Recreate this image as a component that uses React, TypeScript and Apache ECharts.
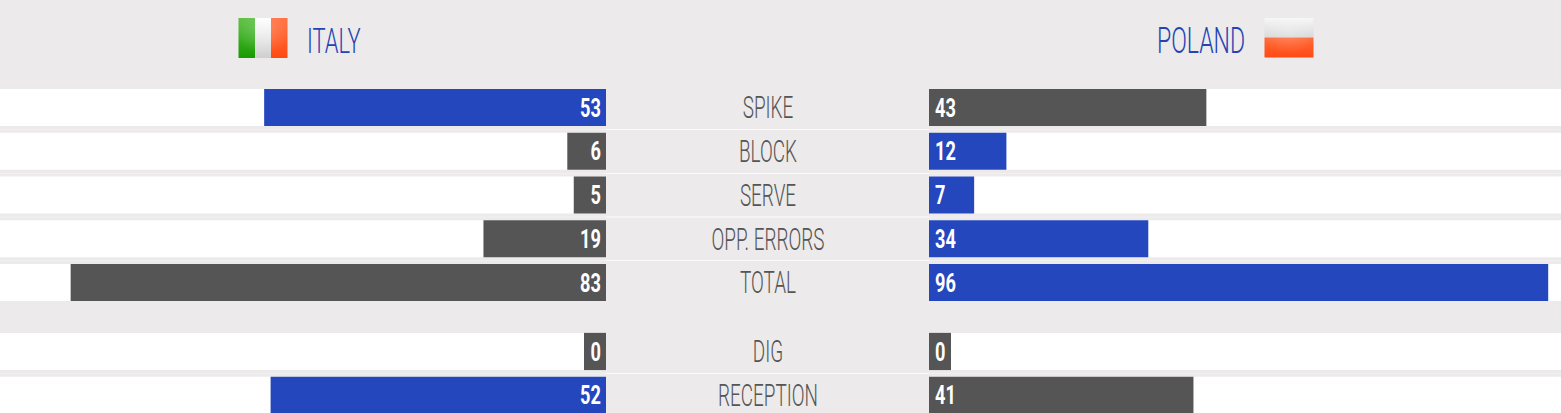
import React, { useEffect, useRef } from "react";
import * as echarts from "echarts";

const teams = ["ITALY", "POLAND"];
const topCategories = ["SPIKE", "BLOCK", "SERVE", "OPP. ERRORS", "TOTAL"];
const topItaly = [53, 6, 5, 19, 83];
const topPoland = [43, 12, 7, 34, 96];
const bottomCategories = ["DIG", "RECEPTION"];
const bottomItaly = [0, 52];
const bottomPoland = [0, 41];

const W = 1561;
const H = 413;
const CHART_H = 430;
const BG = "#ECEAEB";
const BLUE = "#2447BE";
const GREY = "#555555";
const LEFT_END = 606;
const RIGHT_START = 929;
const PX_PER_UNIT = 6.45;
const MIN_BAR = 22;
const BAR_H = 37.2;
const PITCH = 43.75;
const TOP_GRID = 85.6;
const BOTTOM_GRID = 329.6;
const SANS = "Roboto, sans-serif";

function sideSeries(values: number[], others: number[], idx: number, isLeft: boolean, cats: string[]) {
  return {
    type: "custom",
    xAxisIndex: idx,
    yAxisIndex: idx,
    encode: { x: 0, y: 1 },
    data: values.map((v, i) => [v, i]),
    renderItem: (params: any, api: any) => {
      const i = params.dataIndex;
      const v = api.value(0);
      const base = api.coord([0, i]);
      const end = api.coord([v, i]);
      const len = Math.max(Math.abs(end[0] - base[0]), MIN_BAR);
      const cs = params.coordSys;
      const color = v > others[i] ? BLUE : GREY;
      const barX = isLeft ? base[0] - len : base[0];
      const top = base[1] - BAR_H / 2;
      return {
        type: "group",
        children: [
          { type: "rect", shape: { x: cs.x, y: top, width: cs.width, height: BAR_H }, style: { fill: "#fff" } },
          { type: "rect", shape: { x: barX, y: top, width: len, height: BAR_H }, style: { fill: color } },
          {
            type: "text",
            x: isLeft ? base[0] - 5 : base[0] + 6,
            y: base[1],
            scaleX: 0.7,
            style: {
              text: String(v),
              fill: "#fff",
              font: `bold 26px ${SANS}`,
              align: isLeft ? "right" : "left",
              verticalAlign: "middle",
            },
          },
          ...(isLeft
            ? [
                {
                  type: "text",
                  x: (LEFT_END + RIGHT_START) / 2 + 0.5,
                  y: base[1],
                  scaleX: 0.61,
                  style: {
                    text: cats[i],
                    fill: GREY,
                    font: `300 31px ${SANS}`,
                    align: "center",
                    verticalAlign: "middle",
                  },
                },
              ]
            : []),
        ],
      };
    },
  };
}

function rowLine(y: number) {
  return [
    { type: "line", silent: true, shape: { x1: 0, y1: y, x2: W, y2: y }, style: { stroke: "#F1F0F0", lineWidth: 1 } },
    { type: "line", silent: true, shape: { x1: LEFT_END, y1: y, x2: RIGHT_START, y2: y }, style: { stroke: "#FBFBFB", lineWidth: 1 } },
  ];
}

function flagRect(x: number, y: number, w: number, h: number, top: string, bottom: string) {
  return {
    type: "rect",
    shape: { x, y, width: w, height: h },
    style: {
      fill: { type: "linear", x: 0, y: 0, x2: 0, y2: 1, colorStops: [{ offset: 0, color: top }, { offset: 1, color: bottom }] },
    },
  };
}

function flagShine(x: number, y: number, w: number, h: number) {
  return {
    type: "rect",
    shape: { x, y, width: w, height: h, r: 1 },
    style: {
      fill: {
        type: "radial",
        x: 0.5,
        y: 0.3,
        r: 0.6,
        colorStops: [
          { offset: 0, color: "rgba(255,255,255,0.22)" },
          { offset: 1, color: "rgba(255,255,255,0)" },
        ],
      },
    },
  };
}

function teamTitle(text: string, x: number, align: string, scaleX: number) {
  return {
    type: "text",
    x,
    y: 40,
    scaleX,
    style: { text, fill: "#2444B4", font: `300 36px ${SANS}`, align, verticalAlign: "middle" },
  };
}

export default function App() {
  const ref = useRef<HTMLDivElement>(null);
  useEffect(() => {
    const chart = echarts.init(ref.current!, null, { renderer: "svg" });
    const leftMax = LEFT_END / PX_PER_UNIT;
    const rightMax = (W - RIGHT_START) / PX_PER_UNIT;
    const grids = [
      { left: 0, width: LEFT_END, top: TOP_GRID, height: PITCH * 5 },
      { left: RIGHT_START, width: W - RIGHT_START, top: TOP_GRID, height: PITCH * 5 },
      { left: 0, width: LEFT_END, top: BOTTOM_GRID, height: PITCH * 2 },
      { left: RIGHT_START, width: W - RIGHT_START, top: BOTTOM_GRID, height: PITCH * 2 },
    ];
    const xAxis = grids.map((_, i) => ({
      type: "value",
      gridIndex: i,
      show: false,
      min: 0,
      max: i % 2 === 0 ? leftMax : rightMax,
      inverse: i % 2 === 0,
    }));
    const yAxis = grids.map((_, i) => ({
      type: "category",
      gridIndex: i,
      show: false,
      inverse: true,
      data: i < 2 ? topCategories : bottomCategories,
    }));
    chart.setOption({
      animation: false,
      backgroundColor: BG,
      grid: grids,
      xAxis,
      yAxis,
      series: [
        sideSeries(topItaly, topPoland, 0, true, topCategories),
        sideSeries(topPoland, topItaly, 1, false, topCategories),
        sideSeries(bottomItaly, bottomPoland, 2, true, bottomCategories),
        sideSeries(bottomPoland, bottomItaly, 3, false, bottomCategories),
      ],
      graphic: [
        ...rowLine(129.5),
        ...rowLine(173.5),
        ...rowLine(217),
        ...rowLine(260.5),
        ...rowLine(373.5),
        flagRect(238.5, 18, 16.5, 40, "#5CC040", "#189A02"),
        flagRect(255, 18, 16, 40, "#FFFFFF", "#CFCFCF"),
        flagRect(271, 18, 16.5, 40, "#FF7040", "#FF4A12"),
        flagShine(238.5, 18, 49, 40),
        flagRect(1264.5, 18, 49, 19.5, "#F6F6F6", "#D8D8D8"),
        flagRect(1264.5, 37.5, 49, 20, "#FF6A38", "#FF4A14"),
        flagShine(1264.5, 18, 49, 39.5),
        teamTitle(teams[0], 307, "left", 0.61),
        teamTitle(teams[1], 1245, "right", 0.64),
      ],
    });
    return () => chart.dispose();
  }, []);
  return (
    <div style={{ position: "fixed", left: 0, top: 0, width: W, height: H, overflow: "hidden" }}>
      <div ref={ref} style={{ width: W, height: CHART_H }} />
    </div>
  );
}
